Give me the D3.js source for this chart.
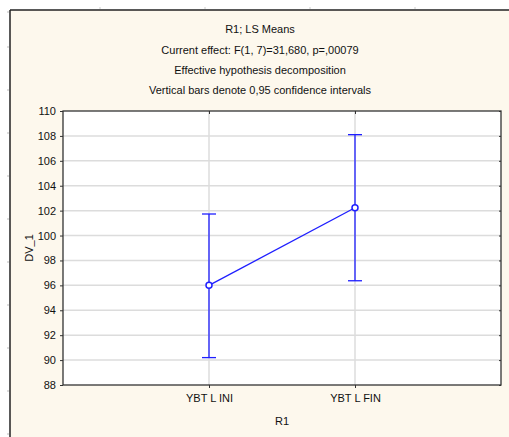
<!DOCTYPE html>
<html><head><meta charset="utf-8">
<script src="https://cdn.jsdelivr.net/npm/d3@7"></script>
<style>
html,body{margin:0;padding:0;background:#fff;}
svg{display:block;font-family:"Liberation Sans",Arial,sans-serif;}
</style></head>
<body>
<script>
const categories = ["YBT L INI", "YBT L FIN"];
const means = [96.0, 102.23];
const lowerCI = [90.2, 96.37];
const upperCI = [101.73, 108.1];
const yTicks = [88, 90, 92, 94, 96, 98, 100, 102, 104, 106, 108, 110];
const titleLines = [
  "R1; LS Means",
  "Current effect: F(1, 7)=31,680, p=,00079",
  "Effective hypothesis decomposition",
  "Vertical bars denote 0,95 confidence intervals"
];
const xTitle = "R1", yTitle = "DV_1";

const W = 509, H = 437;
const svg = d3.select("body").append("svg").attr("width", W).attr("height", H);

// outer panel
svg.append("rect").attr("x", 10).attr("y", 10).attr("width", W - 10).attr("height", H - 10).attr("fill", "#fdf8ed");
svg.append("line").attr("x1", 10).attr("x2", W).attr("y1", 10).attr("y2", 10).attr("stroke", "#222").attr("stroke-width", 1.5);
svg.append("line").attr("x1", 10).attr("x2", 10).attr("y1", 10).attr("y2", H).attr("stroke", "#222").attr("stroke-width", 1.5);
// faint ruler marks
[12, 47, 90, 133, 176, 219, 262, 305, 348, 391, 434].forEach(y => svg.append("line").attr("x1", 7).attr("x2", 9).attr("y1", y).attr("y2", y).attr("stroke", "#bbb"));
[100, 205, 310, 415].forEach(x => svg.append("line").attr("x1", x).attr("x2", x).attr("y1", 7).attr("y2", 9).attr("stroke", "#ccc"));

const m = {l: 63, t: 111, r: 501, b: 385};
const y = d3.scaleLinear().domain([88, 110]).range([m.b, m.t]);
const x = d3.scalePoint().domain(categories).range([m.l, m.r]).padding(1);

svg.append("rect").attr("x", m.l).attr("y", m.t).attr("width", m.r - m.l).attr("height", m.b - m.t).attr("fill", "#fff");

// grid
svg.append("g").selectAll("line").data(yTicks.slice(1, -1)).join("line")
  .attr("x1", m.l).attr("x2", m.r).attr("y1", d => y(d)).attr("y2", d => y(d))
  .attr("stroke", "#dcdcdc").attr("stroke-width", 1.5);
svg.append("g").selectAll("line").data(categories).join("line")
  .attr("x1", d => x(d)).attr("x2", d => x(d)).attr("y1", m.t).attr("y2", m.b)
  .attr("stroke", "#dcdcdc").attr("stroke-width", 1.5);

// axes
const yAxis = svg.append("g").attr("transform", `translate(${m.l},0)`)
  .call(d3.axisLeft(y).tickValues(yTicks).tickSize(3).tickPadding(4));
const yAxisR = svg.append("g").attr("transform", `translate(${m.r},0)`)
  .call(d3.axisLeft(y).tickValues(yTicks).tickSize(2).tickFormat(""));
const xAxis = svg.append("g").attr("transform", `translate(0,${m.b})`)
  .call(d3.axisBottom(x).tickSize(3).tickPadding(6));
const xAxisT = svg.append("g").attr("transform", `translate(0,${m.t})`)
  .call(d3.axisBottom(x).tickSize(3).tickFormat(""));
[yAxis, yAxisR, xAxis, xAxisT].forEach(g => {
  g.select(".domain").remove();
  g.selectAll("line").attr("stroke", "#333");
  g.selectAll("text").attr("font-size", 11).attr("fill", "#111").attr("font-family", "Liberation Sans, Arial, sans-serif");
});

svg.append("rect").attr("x", m.l).attr("y", m.t).attr("width", m.r - m.l).attr("height", m.b - m.t)
  .attr("fill", "none").attr("stroke", "#333").attr("stroke-width", 1.3);

// titles
const baselines = [33, 54, 74, 94];
svg.append("g").selectAll("text").data(titleLines).join("text")
  .attr("x", 260).attr("y", (d, i) => baselines[i]).attr("text-anchor", "middle")
  .attr("font-size", 11).attr("fill", "#111").text(d => d);
svg.append("text").attr("x", 282).attr("y", 425).attr("text-anchor", "middle").attr("font-size", 11).attr("fill", "#111").text(xTitle);
svg.append("text").attr("transform", `translate(33,${(m.t + m.b) / 2}) rotate(-90)`).attr("text-anchor", "middle")
  .attr("font-size", 11).attr("fill", "#111").text(yTitle);

// data
const data = categories.map((c, i) => ({c, m: means[i], lo: lowerCI[i], hi: upperCI[i]}));
const blue = "#1f1fff";
const g = svg.append("g");
g.selectAll(".eb").data(data).join("line").attr("x1", d => x(d.c)).attr("x2", d => x(d.c))
  .attr("y1", d => y(d.lo)).attr("y2", d => y(d.hi)).attr("stroke", blue).attr("stroke-width", 1.3);
g.selectAll(".cap").data(data.flatMap(d => [d.lo, d.hi].map(v => ({c: d.c, v})))).join("line")
  .attr("x1", d => x(d.c) - 7).attr("x2", d => x(d.c) + 7).attr("y1", d => y(d.v)).attr("y2", d => y(d.v))
  .attr("stroke", blue).attr("stroke-width", 1.3);
g.append("path").datum(data).attr("d", d3.line().x(d => x(d.c)).y(d => y(d.m)))
  .attr("fill", "none").attr("stroke", blue).attr("stroke-width", 1.3);
g.selectAll("circle").data(data).join("circle").attr("cx", d => x(d.c)).attr("cy", d => y(d.m)).attr("r", 3)
  .attr("fill", "#fff").attr("stroke", blue).attr("stroke-width", 1.5);
</script>
</body></html>
